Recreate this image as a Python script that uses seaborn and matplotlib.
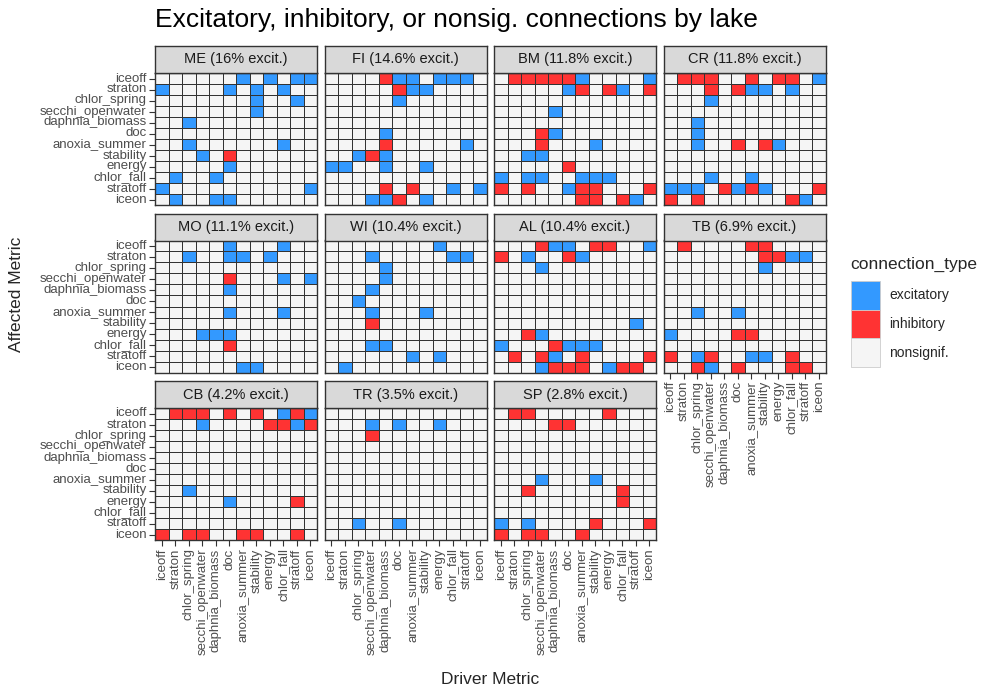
import matplotlib
matplotlib.use("Agg")
import matplotlib.pyplot as plt
from matplotlib.colors import ListedColormap
from matplotlib.patches import Rectangle
import numpy as np
import pandas as pd
import seaborn as sns

# metricas (mismo orden para filas y columnas)
metrics = ["iceoff", "straton", "chlor_spring", "secchi_openwater", "daphnia_biomass",
           "doc", "anoxia_summer", "stability", "energy", "chlor_fall", "stratoff", "iceon"]

lakes = ["ME", "FI", "BM", "CR", "MO", "WI", "AL", "TB", "CB", "TR", "SP"]

# E = excitatory, I = inhibitory, . = nonsignif.
# filas = affected metric (iceoff arriba), columnas = driver metric
ME = ["......E.E.EE", "E....E.E.E..", ".......E..E.", ".......E....",
      "..E.........", "............", "..E......E..", "...E.I......",
      ".....E......", ".E..E.......", "E..........E", ".E..EE......"]
FI = ["....IEE.EEE.", ".....IEE....", ".....E......", "............",
      "............", "....E.......", "....I.....E.", "..EIE.......",
      "EE..E..E....", "............", "....I.I..E.E", "...EEI.E...."]
BM = [".IIIIIE....E", ".....EI.IE.I", "............", "....E.......",
      "............", "...IE.......", "...I...E....", "..EE........",
      ".....I......", "E.EE..EEE...", "I.I..EII...I", "......II.IE."]
CR = [".III..I.II.E", "...I.IEE.E..", "...E........", "............",
      "..E.........", "..E.........", "..E..I.IE...", "............",
      "............", "...E..E.....", "EEE.IEIE...I", "I.I......IE."]
MO = [".....E...E..", "..E..EE.E...", "............", ".....I...E.E",
      ".....E......", "............", ".....E...E..", "............",
      "...EEE......", ".....I......", "............", "......EE...."]
WI = ["........E...", "...E.....EE.", "....E.......", "....E.......",
      "...E........", "..E.........", "...E...E....", "...I........",
      "............", "...EE.......", "......E.E...", ".E.........."]
AL = ["...IEE.II..E", "I.E..IE.....", "...E........", "............",
      "............", "............", "............", "..........E.",
      "..IE........", "E...IEEE....", ".I.IE.I....I", "...EIII.EII."]
TB = [".I....II....", ".......IIEE.", ".......E....", "............",
      "............", "............", "..E..E......", "............",
      "E....II.....", "............", "I.EI..EE.I..", "..IE.I...II."]
CB = [".III.I.I.EIE", "...E....IIEI", "............", "............",
      "............", "............", "............", "..E.........",
      ".....E....I.", "............", "............", "I.II..II..I."]
TR = ["............", "...E.E..E...", "...I........", "............",
      "............", "............", "............", "............",
      "............", "............", "..E..E......", "............"]
SP = [".II.....I...", "....II......", "............", "............",
      "............", "............", "...E...E....", "..I......I..",
      ".........I..", "............", "E.E....I...I", "I.II..I....."]

grids = dict(ME=ME, FI=FI, BM=BM, CR=CR, MO=MO, WI=WI, AL=AL, TB=TB, CB=CB, TR=TR, SP=SP)

type_names = ["excitatory", "inhibitory", "nonsignif."]
type_colors = ["#3399FF", "#FF3333", "#F5F5F5"]
code_map = {"E": 0, "I": 1, ".": 2}

# tabla larga
rows = []
for lake in lakes:
    for i, fila in enumerate(grids[lake]):
        for j, ch in enumerate(fila):
            rows.append({"lake": lake, "affected": metrics[i], "driver": metrics[j],
                         "code": code_map[ch], "connection_type": type_names[code_map[ch]]})
df = pd.DataFrame(rows)

sns.set_style("white")
plt.rcParams["font.family"] = ["Liberation Sans", "DejaVu Sans"]

W, H = 1000, 700
fig = plt.figure(figsize=(10, 7), dpi=100)


def px_axes(x0, y0, w, h):
    # coordenadas en pixeles desde arriba-izquierda
    return fig.add_axes([x0 / W, 1 - (y0 + h) / H, w / W, h / H])


cmap = ListedColormap(type_colors)
panel_w, panel_h, strip_h = 162, 132, 27
col_x = [155, 324.5, 494, 663.5]
row_y = [73, 240.5, 408]
border = "#333333"
tick_col = "#4d4d4d"

for k, lake in enumerate(lakes):
    r, c = divmod(k, 4)
    sub = df[df.lake == lake]
    mat = sub.pivot(index="affected", columns="driver", values="code").loc[metrics, metrics]
    pct = (sub.connection_type == "excitatory").mean() * 100

    ax = px_axes(col_x[c], row_y[r], panel_w, panel_h)
    sns.heatmap(mat, ax=ax, cmap=cmap, vmin=-0.5, vmax=2.5, cbar=False,
                linewidths=0.5, linecolor=border, xticklabels=metrics, yticklabels=metrics)
    ax.set_xlabel("")
    ax.set_ylabel("")
    for s in ax.spines.values():
        s.set_visible(True)
        s.set_color(border)
        s.set_linewidth(1.0)

    bottom = (r == 2) or (r == 1 and c == 3)
    left = c == 0
    ax.tick_params(axis="x", bottom=bottom, labelbottom=bottom, length=4, width=0.8,
                   color=border, labelsize=9.5, labelcolor=tick_col, labelrotation=90, pad=2)
    ax.tick_params(axis="y", left=left, labelleft=left, length=4, width=0.8,
                   color=border, labelsize=9.5, labelcolor=tick_col, labelrotation=0, pad=2)

    # tira con el nombre del lago
    sax = px_axes(col_x[c], row_y[r] - strip_h, panel_w, strip_h)
    sax.set_facecolor("#d9d9d9")
    sax.set_xticks([])
    sax.set_yticks([])
    for s in sax.spines.values():
        s.set_visible(True)
        s.set_color(border)
        s.set_linewidth(1.0)
    sax.text(0.5, 0.5, f"{lake} ({round(pct, 1):g}% excit.)", ha="center", va="center",
             fontsize=10.5, color="#1a1a1a", transform=sax.transAxes)

fig.text(155 / W, 1 - 20 / H, "Excitatory, inhibitory, or nonsig. connections by lake",
         fontsize=19, ha="left", va="center", color="black")
fig.text(490 / W, 1 - 679 / H, "Driver Metric", fontsize=12.5, ha="center", va="center")
fig.text(17 / W, 1 - 294 / H, "Affected Metric", fontsize=12.5, ha="center", va="center",
         rotation=90)

# leyenda
lax = px_axes(840, 250, 150, 125)
lax.set_xlim(0, 150)
lax.set_ylim(125, 0)
lax.axis("off")
lax.text(10, 14, "connection_type", fontsize=12.5, ha="left", va="center")
for i, (name, colr) in enumerate(zip(type_names, type_colors)):
    y0 = 31 + i * 28.7
    lax.add_patch(Rectangle((11, y0), 29, 28.7, facecolor=colr, edgecolor="#cccccc", lw=0.6))
    lax.text(49, y0 + 14.3, name, fontsize=10, ha="left", va="center")

fig.savefig("out.png", dpi=100)
